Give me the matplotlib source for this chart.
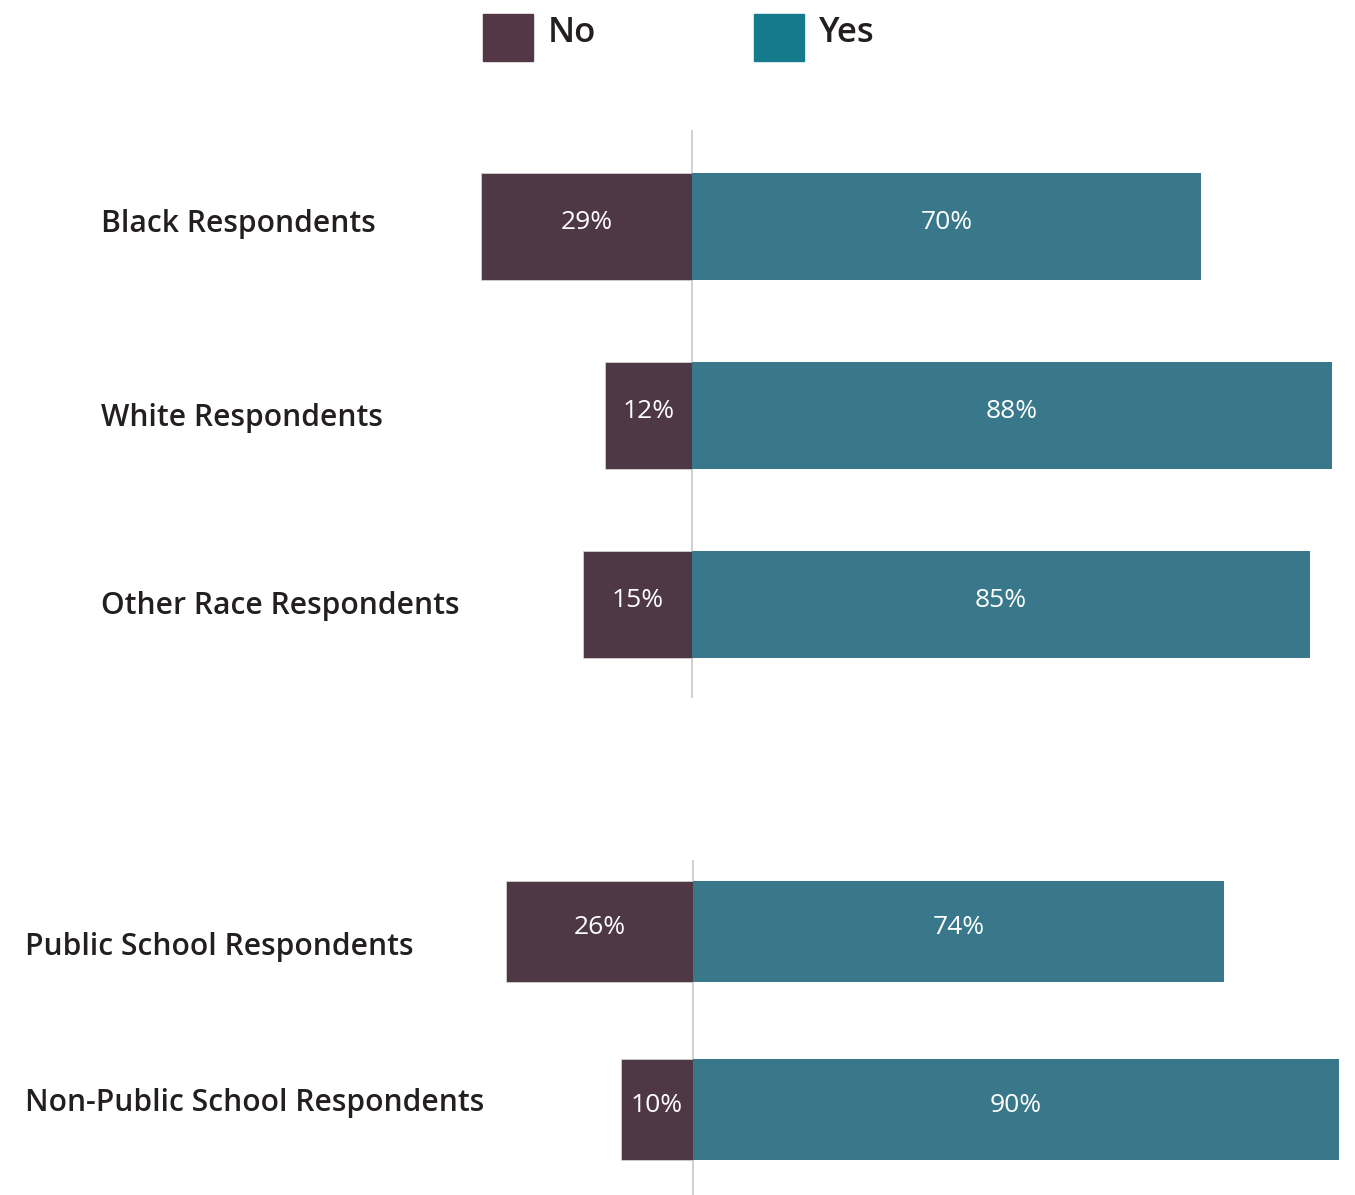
import matplotlib
matplotlib.use("Agg")
import matplotlib.pyplot as plt
import matplotlib.transforms as mtransforms
from matplotlib.patches import Rectangle

plt.rcParams["font.family"] = ["Open Sans", "DejaVu Sans"]

# survey answers, two groupings
race_groups = ["Black Respondents", "White Respondents", "Other Race Respondents"]
race_no = [29, 12, 15]
race_yes = [70, 88, 85]

school_groups = ["Public School Respondents", "Non-Public School Respondents"]
school_no = [26, 10]
school_yes = [74, 90]

NO_C = "#4f3846"
YES_C = "#38788a"
NO_LEG = "#543746"
YES_LEG = "#157a8c"
TXT = "#231f20"

W, H = 1355, 1195
fig = plt.figure(figsize=(W / 100, H / 100), dpi=100)


def px_axes(x0, y0, x1, y1):
    """axes from pixel box (top-left origin)"""
    return fig.add_axes([x0 / W, 1 - y1 / H, (x1 - x0) / W, (y1 - y0) / H])


def draw_group(ax, labels, no, yes, zero_px, ylim, label_x, label_dy, pct_px):
    ax.set_xlim(-zero_px / pct_px, (W - zero_px) / pct_px)
    ax.set_ylim(*ylim)
    ax.axis("off")
    ax.axvline(0, color="#c8c8c8", lw=1.2, zorder=1)
    pos = list(range(len(labels)))
    ax.barh(pos, [-v for v in no], height=0.567, color=NO_C, edgecolor="#d0d0d0", lw=0.6, zorder=2)
    ax.barh(pos, yes, height=0.567, color=YES_C, zorder=2)
    lab_tr = mtransforms.blended_transform_factory(fig.transFigure, ax.transData)
    for i, lab in enumerate(labels):
        yt = i - 0.02
        ax.text(-no[i] / 2, yt, f"{no[i]}%", ha="center", va="center", color="white", fontsize=19, zorder=3)
        ax.text(yes[i] / 2, yt, f"{yes[i]}%", ha="center", va="center", color="white", fontsize=19, zorder=3)
        ax.text(label_x / W, i + label_dy[i], lab, ha="left", va="center", color=TXT, fontsize=21.6,
                weight=600, transform=lab_tr)


ax1 = px_axes(0, 130, W, 698)
draw_group(ax1, race_groups, race_no, race_yes, 692, (2.495, -0.511), 101,
           [-0.014, 0.011, 0.006], 7.27)

ax2 = px_axes(0, 860, W, H)
draw_group(ax2, school_groups, school_no, school_yes, 693, (1.48, -0.402), 25,
           [0.087, -0.038], 7.18)

# legend
for x0, col, name in [(483, NO_LEG, "No"), (754, YES_LEG, "Yes")]:
    fig.patches.append(Rectangle((x0 / W, 1 - 61 / H), 50 / W, 47 / H, transform=fig.transFigure,
                                 color=col))
    fig.text((x0 + 65) / W, 1 - 33 / H, name, ha="left", va="center", color=TXT, fontsize=25,
             weight=600)

fig.savefig("out.png", dpi=100, facecolor="white")
